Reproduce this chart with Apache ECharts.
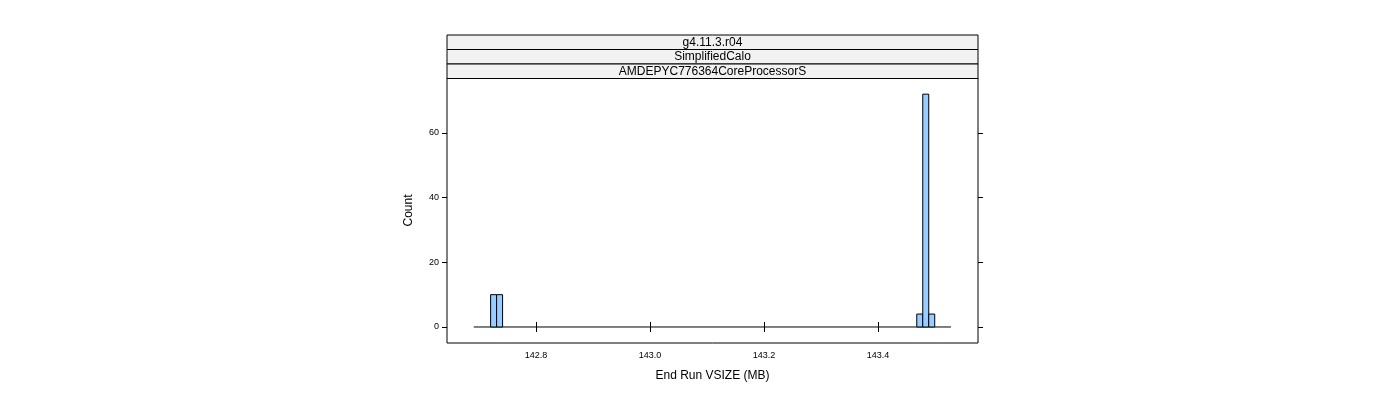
<!DOCTYPE html>
<html><head><meta charset="utf-8">
<script src="https://cdn.jsdelivr.net/npm/echarts@6/dist/echarts.min.js"></script>
<style>body{margin:0}#c{width:1400px;height:400px}</style></head>
<body><div id="c"></div>
<script>
const binStart = [142.7205, 142.731, 143.468, 143.4785, 143.489];
const binEnd   = [142.731, 142.7415, 143.4785, 143.489, 143.4995];
const counts   = [10, 10, 4, 72, 4];
const baseRange = [142.691, 143.528];
const xTicks = [142.8, 143.0, 143.2, 143.4];
const yTicks = [0, 20, 40, 60];
const strips = ['g4.11.3.r04', 'SimplifiedCalo', 'AMDEPYC776364CoreProcessorS'];

const chart = echarts.init(document.getElementById('c'));
const bins = binStart.map((s, i) => [s, binEnd[i], counts[i]]);
const axBase = {axisLine:{show:false}, splitLine:{show:false},
  axisTick:{inside:false, length:5, lineStyle:{color:'#000'}},
  axisLabel:{color:'#000', fontSize:9, fontFamily:'Liberation Sans'}};
const stripG = [];
strips.forEach((t, i) => {
  const y = 35 + i * 14.5;
  stripG.push({type:'rect', shape:{x:447, y:y, width:531, height:14.5},
    style:{fill:'#f2f2f2', stroke:'#000', lineWidth:1}});
  stripG.push({type:'text', x:712.5, y:y + 7.5,
    style:{text:t, fill:'#000', font:'12px Liberation Sans', textAlign:'center', textVerticalAlign:'middle'}});
});
chart.setOption({
  animation:false,
  grid:{left:447, top:78, width:531, height:265, show:true, borderColor:'#000', borderWidth:1},
  xAxis:[
    Object.assign({}, axBase, {type:'value', min:142.644, max:143.5754, position:'bottom',
      axisLabel:Object.assign({}, axBase.axisLabel, {customValues:xTicks, formatter:v=>v.toFixed(1), margin:8}),
      axisTick:Object.assign({}, axBase.axisTick, {customValues:xTicks}),
      name:'End Run VSIZE (MB)', nameLocation:'middle', nameGap:27,
      nameTextStyle:{fontSize:12, color:'#000', fontFamily:'Liberation Sans'}}),
    Object.assign({}, axBase, {type:'value', min:142.644, max:143.5754, position:'top', offset:43,
      axisLabel:{show:false}, axisTick:Object.assign({}, axBase.axisTick, {customValues:xTicks})})
  ],
  yAxis:[
    Object.assign({}, axBase, {type:'value', min:-4.95, max:77.0,
      axisLabel:Object.assign({}, axBase.axisLabel, {customValues:yTicks, margin:8}),
      axisTick:Object.assign({}, axBase.axisTick, {customValues:yTicks}),
      name:'Count', nameLocation:'middle', nameGap:32,
      nameTextStyle:{fontSize:12, color:'#000', fontFamily:'Liberation Sans'}}),
    Object.assign({}, axBase, {type:'value', min:-4.95, max:77.0, position:'right',
      axisLabel:{show:false}, axisTick:Object.assign({}, axBase.axisTick, {customValues:yTicks})})
  ],
  graphic:stripG,
  series:[
    {type:'line', data:[[baseRange[0],0],[baseRange[1],0]], symbol:'none',
     lineStyle:{color:'#000', width:1}, z:1},
    {type:'custom', data:bins, z:2,
     renderItem:(p, api) => {
       const a = api.coord([api.value(0), api.value(2)]);
       const b = api.coord([api.value(1), 0]);
       return {type:'rect', shape:{x:a[0], y:a[1], width:b[0]-a[0], height:b[1]-a[1]},
         style:{fill:'#99ccff', stroke:'#000', lineWidth:1}};
     }}
  ]
});
</script></body></html>
